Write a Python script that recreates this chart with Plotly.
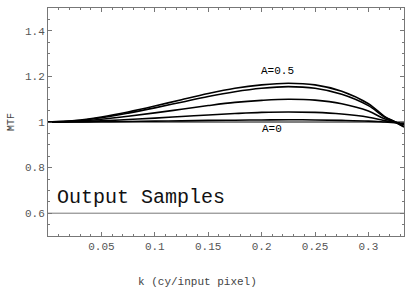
import plotly.graph_objects as go

k = [0, 0.025, 0.05, 0.075, 0.1, 0.125, 0.15, 0.175, 0.2, 0.225, 0.25, 0.275, 0.3, 0.315, 0.325, 0.3333]
mtf_a05 = [1.0, 1.006, 1.022, 1.044, 1.070, 1.098, 1.125, 1.148, 1.163, 1.170, 1.163, 1.135, 1.080, 1.025, 1.0, 0.978]
mtf_a04 = [1.0, 1.005, 1.019, 1.039, 1.062, 1.087, 1.112, 1.133, 1.148, 1.155, 1.148, 1.122, 1.072, 1.022, 1.0, 0.980]
mtf_a03 = [1.0, 1.003, 1.012, 1.025, 1.040, 1.056, 1.072, 1.086, 1.095, 1.100, 1.096, 1.080, 1.048, 1.014, 1.0, 0.988]
mtf_a02 = [1.0, 1.001, 1.005, 1.011, 1.017, 1.024, 1.031, 1.037, 1.042, 1.044, 1.042, 1.035, 1.021, 1.006, 0.998, 0.992]
mtf_a00 = [1.0, 1.0, 1.001, 1.002, 1.004, 1.005, 1.007, 1.008, 1.009, 1.010, 1.009, 1.007, 1.004, 1.000, 0.997, 0.994]
series = [mtf_a05, mtf_a04, mtf_a03, mtf_a02, mtf_a00]

x_ticks = [0.05, 0.1, 0.15, 0.2, 0.25, 0.3]
y_ticks = [0.6, 0.8, 1, 1.2, 1.4]

FONT = "Liberation Mono"
GRAY = "#777777"

fig = go.Figure()
for s in series:
    fig.add_trace(go.Scatter(x=k, y=s, mode="lines", line=dict(color="black", width=1.6, shape="spline"),
                             showlegend=False, hoverinfo="skip"))

fig.add_shape(type="line", xref="paper", yref="y", x0=0, x1=1, y0=1, y1=1, line=dict(color="black", width=1))
fig.add_shape(type="line", xref="paper", yref="y", x0=0, x1=1, y0=0.6, y1=0.6, line=dict(color=GRAY, width=1))

fig.add_annotation(x=0.215, y=1.222, text="A=0.5", showarrow=False, font=dict(family=FONT, size=11, color="black"))
fig.add_annotation(x=0.21, y=0.968, text="A=0", showarrow=False, font=dict(family=FONT, size=11, color="black"))
fig.add_annotation(x=0.0066, y=0.67, text="Output Samples", showarrow=False, xanchor="left", yanchor="middle",
                   font=dict(family=FONT, size=20, color="#111111"))
fig.add_annotation(xref="paper", yref="paper", x=0.42, y=-0.165, text="k (cy/input pixel)", showarrow=False,
                   yanchor="top", font=dict(family=FONT, size=11, color="#444444"))
fig.add_annotation(xref="paper", yref="y", x=-0.125, y=1.0, text="MTF", showarrow=False, textangle=-90,
                   font=dict(family=FONT, size=10, color="#444444"))

axis_common = dict(showgrid=False, zeroline=False, showline=True, linecolor=GRAY, linewidth=1, mirror="ticks",
                   ticks="inside", ticklen=4, tickcolor=GRAY, tickfont=dict(family=FONT, size=11, color="#555555"))
fig.update_xaxes(range=[0, 0.3333], tickvals=x_ticks, ticktext=[str(v) for v in x_ticks],
                 minor=dict(ticks="inside", ticklen=2, dtick=0.01, tickcolor=GRAY), **axis_common)
fig.update_yaxes(range=[0.5, 1.5], tickvals=y_ticks, ticktext=[("%g" % v) for v in y_ticks],
                 minor=dict(ticks="inside", ticklen=2, dtick=0.05, tickcolor=GRAY), **axis_common)

fig.update_layout(width=410, height=297, margin=dict(l=48, r=6, t=8, b=61),
                  plot_bgcolor="white", paper_bgcolor="white")
fig.write_html("out.html")
